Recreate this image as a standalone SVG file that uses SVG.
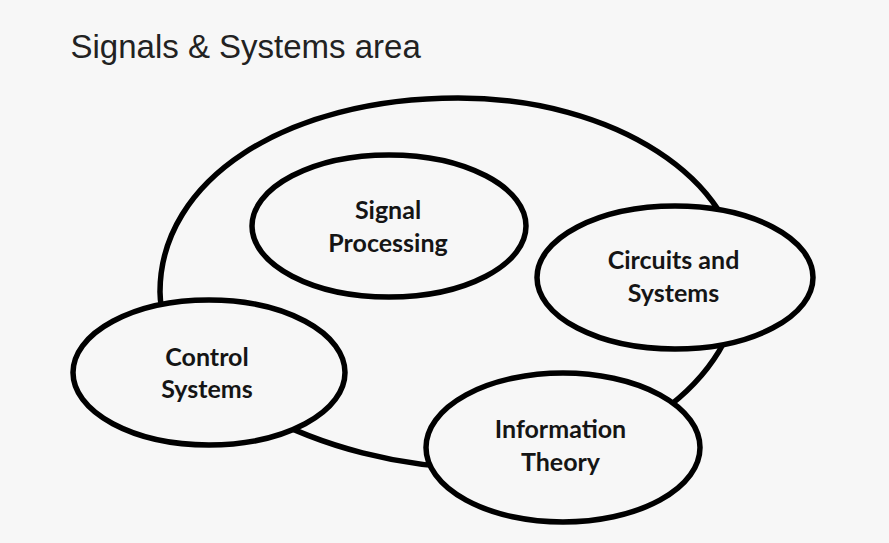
<svg xmlns="http://www.w3.org/2000/svg" width="889" height="543" viewBox="0 0 889 543">
  <style>
    .bg { fill: #f7f7f7; }
    .shape { fill: #f7f7f7; stroke: #000; stroke-width: 5.5; }
    .outline { fill: none; stroke: #000; stroke-width: 5.5; }
    .label { font-family: Lato, "Open Sans", sans-serif; font-weight: bold; font-size: 25px; fill: #151515; text-anchor: middle; }
    .title { font-family: "Liberation Sans", Arial, sans-serif; font-size: 33px; fill: #222; }
  </style>
  <rect class="bg" x="0" y="0" width="889" height="543"/>
  <text class="title" x="70.5" y="58">Signals &amp; Systems area</text>
  <g id="area">
    <path class="outline" d="M 160 292 C 160 180, 285 98, 458 98 C 614 98, 740 180, 740 280 C 740 380, 618 468, 480 468 C 320 468, 160 380, 160 292 Z"/>
  </g>
  <g id="connectors"></g>
  <g id="signal-processing">
    <ellipse class="shape" cx="389" cy="226" rx="137" ry="71"/>
    <text class="label" x="388" y="219">Signal</text>
    <text class="label" x="388" y="252">Processing</text>
  </g>
  <g id="circuits-and-systems">
    <ellipse class="shape" cx="675" cy="277.5" rx="138" ry="71.5"/>
    <text class="label" x="673.5" y="269">Circuits and</text>
    <text class="label" x="673.5" y="302">Systems</text>
  </g>
  <g id="control-systems">
    <ellipse class="shape" cx="209" cy="372.5" rx="136" ry="72.5"/>
    <text class="label" x="207" y="366">Control</text>
    <text class="label" x="207" y="398">Systems</text>
  </g>
  <g id="information-theory">
    <ellipse class="shape" cx="563" cy="447.5" rx="137" ry="74.5"/>
    <text class="label" x="560.5" y="438">Information</text>
    <text class="label" x="560.5" y="471">Theory</text>
  </g>
</svg>
